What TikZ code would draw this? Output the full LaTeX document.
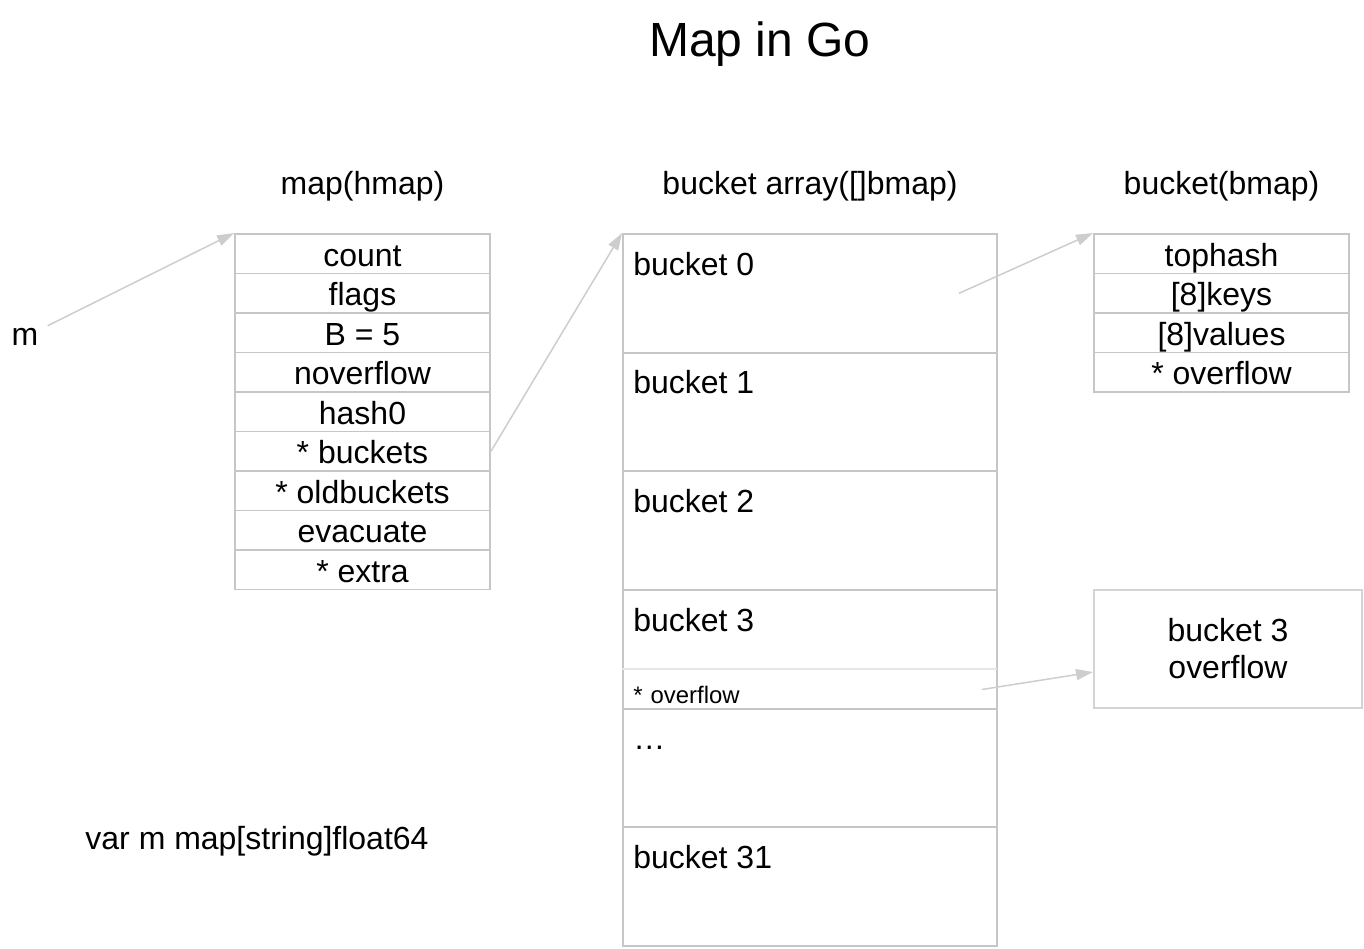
\documentclass[tikz,border=0pt]{standalone}
\usepackage{fontspec}
\setmainfont{Liberation Sans}
\usetikzlibrary{arrows.meta}

\definecolor{boxgray}{RGB}{198,198,198}
\definecolor{sepgray}{RGB}{230,230,230}
\definecolor{ovgray}{RGB}{212,212,212}
\definecolor{arrowgray}{RGB}{205,205,205}

\newcommand\fieldfont{\fontsize{18.2pt}{21pt}\selectfont}
\newcommand\titlefont{\fontsize{27.3pt}{32pt}\selectfont}
\newcommand\ptrfont{\fontsize{13.6pt}{16pt}\selectfont}

\begin{document}
\begin{tikzpicture}[
    field/.style={draw=boxgray, line width=1.1pt, minimum width=5.1cm, minimum height=0.79cm,
        inner sep=0pt, text height=0.55cm, text depth=0.05cm, font=\fieldfont},
    slot/.style={draw=boxgray, line width=1.1pt, minimum width=7.48cm, minimum height=2.373cm, inner sep=0pt},
    slotname/.style={anchor=base west, inner sep=0pt, font=\fieldfont},
    heading/.style={inner sep=0pt, font=\fieldfont},
    ptr/.style={draw=arrowgray, line width=0.85pt, -{Triangle[length=0.34cm,width=0.22cm]}}
]
    \useasboundingbox (0,0) rectangle (27.28,18.96);

    % Titles
    \node[inner sep=0pt, font=\titlefont] (title) at (15.2,18.08) {Map in Go};
    \node[heading] (hmaplbl) at (7.25,15.24) {map(hmap)};
    \node[heading] (arraylbl) at (16.2,15.24) {bucket array([]bmap)};
    \node[heading] (bmaplbl) at (24.43,15.24) {bucket(bmap)};

    % Variable
    \node[heading] (mvar) at (0.5,12.22) {m};
    \node[heading] (decl) at (5.14,2.14) {var m map[string]float64};

    % hmap fields
    \foreach \lbl [count=\i] in {count, flags, B = 5, noverflow, hash0, * buckets, * oldbuckets, evacuate, * extra}
        \node[field] (h\i) at (7.25,{14.28-0.79*(\i-0.5)}) {\lbl};

    % Bucket array
    \foreach \lbl [count=\i from 0] in {bucket 0, bucket 1, bucket 2, bucket 3, …, bucket 31} {
        \node[slot] (b\i) at (16.2,{14.28-2.3733*(\i+0.5)}) {};
        \node[slotname] at ([xshift=0.22cm, yshift=-0.84cm]b\i.north west) {\lbl};
    }
    \node[anchor=south west, minimum width=7.48cm, minimum height=0.79cm, text width=7.04cm,
        align=left, inner xsep=0.22cm, inner ysep=0pt, text height=0.55cm, text depth=0cm, font=\ptrfont] (b3p) at (b3.south west) {* overflow};
    \draw[sepgray, line width=1.1pt] (b3p.north west) -- (b3p.north east);

    % bmap fields
    \foreach \lbl [count=\i] in {tophash, {[8]keys}, {[8]values}, * overflow}
        \node[field] (t\i) at (24.43,{14.28-0.79*(\i-0.5)}) {\lbl};

    % Overflow bucket
    \node[draw=ovgray, line width=1.1pt, minimum width=5.36cm, minimum height=2.36cm, align=center,
        font=\fieldfont] (ov) at (24.56,5.98) {bucket 3\\overflow};

    % Pointers
    \draw[ptr, shorten <=0.2cm] (mvar) -- (h1.north west);
    \draw[ptr] (h6.east) -- (b0.north west);
    \draw[ptr] ([xshift=-0.78cm]b0.east) -- (t1.north west);
    \draw[ptr] ([xshift=-0.3cm]b3p.east) -- ([yshift=-0.46cm]ov.west);
\end{tikzpicture}
\end{document}
